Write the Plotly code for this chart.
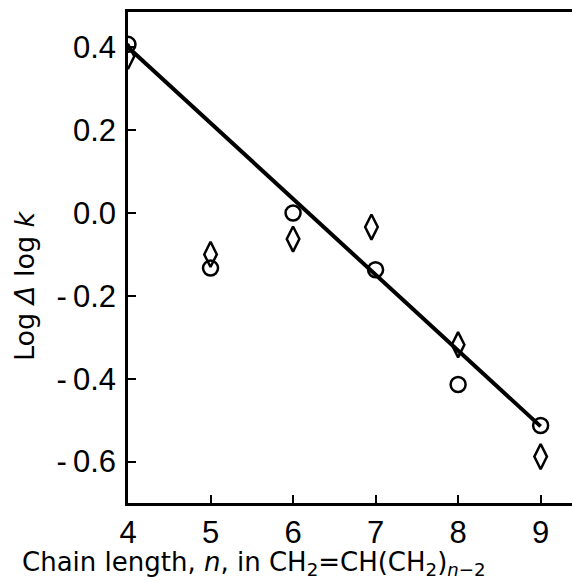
import plotly.graph_objects as go

n_values = [4, 5, 6, 7, 8, 9]
circle_values = [0.407, -0.133, 0.0, -0.137, -0.414, -0.513]
diamond_n = [4, 5, 6, 6.95, 8, 9]
diamond_values = [0.378, -0.100, -0.063, -0.034, -0.318, -0.588]
fit_n = [4, 9]
fit_values = [0.400, -0.515]

x_ticks = [4, 5, 6, 7, 8, 9]
y_ticks = [-0.6, -0.4, -0.2, 0.0, 0.2, 0.4]
y_tick_labels = ["-\u20090.6", "-\u20090.4", "-\u20090.2", "0.0", "0.2", "0.4"]

FONT = "Liberation Sans"
TITLE_FONT = "DejaVu Sans"

fig = go.Figure()
fig.add_trace(go.Scatter(x=fit_n, y=fit_values, mode="lines",
                         line=dict(color="black", width=4), showlegend=False))
fig.add_trace(go.Scatter(x=n_values, y=circle_values, mode="markers",
                         marker=dict(symbol="circle-open", size=15, color="black",
                                     line=dict(width=2.5, color="black")),
                         showlegend=False))
fig.add_trace(go.Scatter(x=diamond_n, y=diamond_values, mode="markers",
                         marker=dict(symbol="diamond-tall-open", size=18, color="black",
                                     line=dict(width=2.5, color="black")),
                         showlegend=False))

fig.update_layout(
    width=572, height=582,
    margin=dict(l=128, r=0, t=12, b=79),
    paper_bgcolor="white", plot_bgcolor="white",
    font=dict(family=FONT, color="black"),
    xaxis=dict(range=[4, 9.38], tickvals=x_ticks, ticks="inside", ticklen=8,
               tickwidth=2, tickcolor="black", showline=True, linecolor="black",
               linewidth=2.5, mirror=True, showgrid=False, zeroline=False,
               ticklabelstandoff=0,
               tickfont=dict(size=31, family=FONT)),
    yaxis=dict(range=[-0.7, 0.485], tickvals=y_ticks, ticktext=y_tick_labels,
               ticks="inside", ticklen=8, tickwidth=2, tickcolor="black",
               showline=True, linecolor="black", linewidth=2.5, showgrid=False,
               zeroline=False, ticklabelstandoff=3,
               tickfont=dict(size=31, family=FONT)),
    annotations=[
        dict(text="Chain length, <i>n</i>, in CH<sub>2</sub>=CH(CH<sub>2</sub>)<sub><i>n</i>−2</sub>",
             xref="paper", yref="paper", x=(254 - 128) / 444, y=(503 - 563) / 491,
             xanchor="center", yanchor="middle",
             showarrow=False, font=dict(size=26, family=TITLE_FONT)),
        dict(text="Log <i>Δ</i> log <i>k</i>", xref="paper", yref="paper",
             x=(24 - 128) / 444, y=(503 - 286) / 491, xanchor="center", yanchor="middle",
             textangle=-90, showarrow=False, font=dict(size=27, family=TITLE_FONT)),
    ],
)

fig.write_html("out.html", config={"displayModeBar": False},
               post_script="document.body.style.margin='0';")
